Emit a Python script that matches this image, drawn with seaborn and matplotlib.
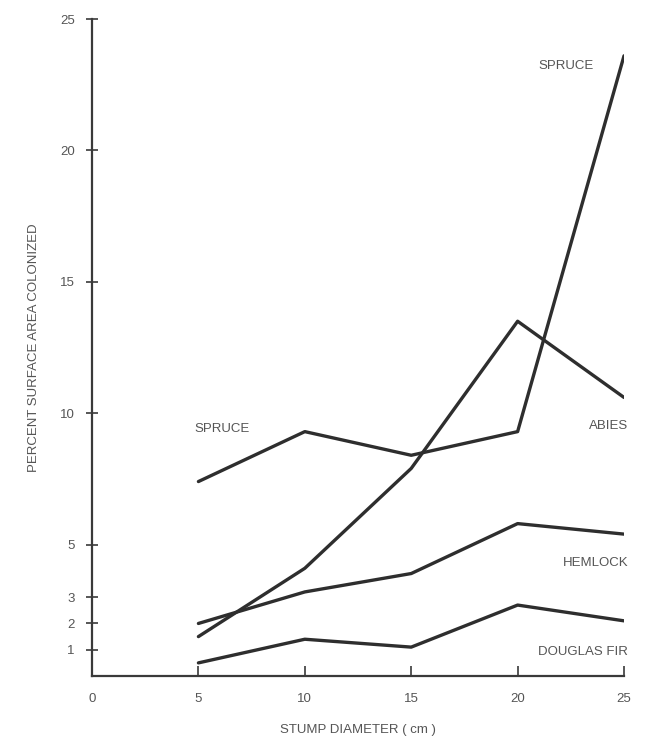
import matplotlib
matplotlib.use('Agg')
import matplotlib.pyplot as plt
import pandas as pd
import seaborn as sns

# Values
diameters = [5, 10, 15, 20, 25]
spruce = [7.4, 9.3, 8.4, 9.3, 23.6]
abies = [1.5, 4.1, 7.9, 13.5, 10.6]
hemlock = [2.0, 3.2, 3.9, 5.8, 5.4]
douglas_fir = [0.5, 1.4, 1.1, 2.7, 2.1]

species = ['SPRUCE', 'ABIES', 'HEMLOCK', 'DOUGLAS FIR']
x_ticks = [0, 5, 10, 15, 20, 25]
y_ticks = [1, 2, 3, 5, 10, 15, 20, 25]

df = pd.DataFrame({
    'diameter': diameters * 4,
    'colonized': spruce + abies + hemlock + douglas_fir,
    'species': [s for s in species for _ in diameters],
})

sns.set_style('white')
plt.rcParams['font.family'] = ['Liberation Sans', 'DejaVu Sans']

text_col = '#555555'
line_col = '#2e2e2e'

fig = plt.figure(figsize=(6.48, 7.46), dpi=100)
ax = fig.add_axes([0.142, 0.0938, 0.821, 0.8807])

sns.lineplot(data=df, x='diameter', y='colonized', hue='species',
             palette={s: line_col for s in species}, linewidth=2.4,
             legend=False, ax=ax)

ax.set_xlim(0, 25)
ax.set_ylim(0, 25)
sns.despine(ax=ax)
for side in ['left', 'bottom']:
    ax.spines[side].set_color('#3a3a3a')
    ax.spines[side].set_linewidth(1.6)

ax.set_xticks(x_ticks)
ax.set_yticks(y_ticks)
ax.tick_params(axis='x', bottom=True, direction='in', length=7, width=1.2,
               colors='#3a3a3a', labelcolor=text_col, labelsize=9.5, pad=12)
ax.tick_params(axis='y', left=True, direction='inout', length=9, width=1.2,
               colors='#3a3a3a', labelcolor=text_col, labelsize=9.5, pad=8)

ax.set_xlabel('STUMP DIAMETER ( cm )', color=text_col, fontsize=9.5, labelpad=14)
ax.set_ylabel('PERCENT SURFACE AREA COLONIZED', color=text_col, fontsize=9.5,
              labelpad=14)

# Line labels next to the curves
lab = dict(color=text_col, fontsize=9.5)
ax.text(21.0, spruce[-1] - 0.5, 'SPRUCE', **lab)
ax.text(4.8, spruce[0] + 1.9, 'SPRUCE', **lab)
ax.text(25.2, abies[-1] - 1.2, 'ABIES', ha='right', **lab)
ax.text(25.2, hemlock[-1] - 1.2, 'HEMLOCK', ha='right', **lab)
ax.text(25.2, douglas_fir[-1] - 1.3, 'DOUGLAS FIR', ha='right', **lab)

fig.savefig('out.png', dpi=100)
